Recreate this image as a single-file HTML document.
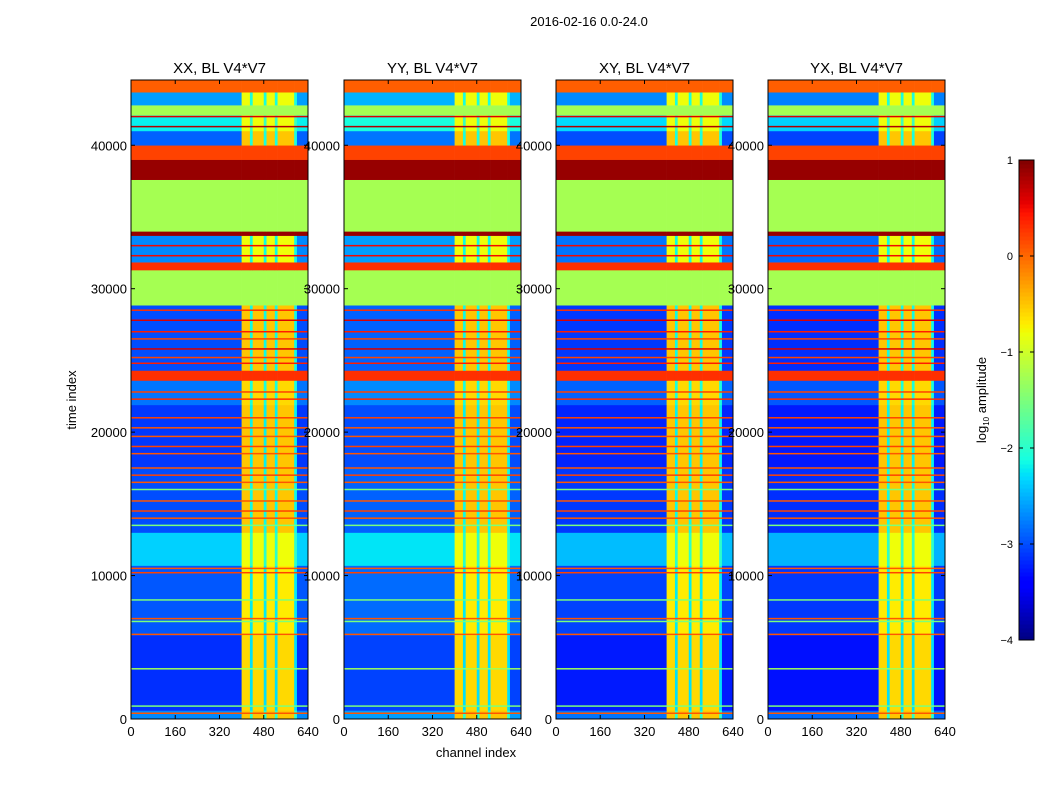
<!DOCTYPE html>
<html><head><meta charset="utf-8">
<style>
body{margin:0;background:#fff;}
svg{display:block;font-family:"Liberation Sans",sans-serif;}
</style></head>
<body>
<svg id="fig" width="1050" height="800" viewBox="0 0 1050 800">
<text x="589" y="26" font-size="13" text-anchor="middle">2016-02-16 0.0-24.0</text>
<text x="476" y="757" font-size="13" text-anchor="middle">channel index</text>
<text x="76" y="400" font-size="13" text-anchor="middle" transform="rotate(-90 76 400)">time index</text>
<g id="panels"></g>
<g id="cbar"></g>
</svg>
<script>
// ---- data ----
const panelTitles = ["XX, BL V4*V7","YY, BL V4*V7","XY, BL V4*V7","YX, BL V4*V7"];
const panelBgOffset = [0, 0.1, -0.1, -0.15];
const xTicks = [0,160,320,480,640];
const yTicks = [0,10000,20000,30000,40000];
const cbTicks = [1,0,-1,-2,-3,-4];
// time bands: start, end, background log-amplitude, RFI-region log-amplitude
const bandStart = [0,600,5850,10700,13000,17500,21900,23600,24300,28850,31300,31850,33700,34000,37600,39000,40000,41000,42100,42800,43700];
const bandEnd   = [600,5850,10700,13000,17500,21900,23600,24300,28850,31300,31850,33700,34000,37600,39000,40000,41000,42100,42800,43700,44550];
const bandBg    = [-2.7,-3.15,-2.95,-2.35,-3.0,-3.1,-2.8,0.3,-3.0,-1.25,0.3,-2.7,0.9,-1.25,0.9,0.2,-2.9,-2.2,-1.25,-2.6,0.05];
const bandRfi   = [-0.5,-0.6,-0.7,-0.8,-0.5,-0.5,-0.6,0.3,-0.5,-1.25,0.3,-0.8,0.9,-1.25,0.9,0.2,-0.5,-0.8,-1.25,-0.8,0.05];
// channel bands and type (0 = background, 1 = rfi, 2 = gap)
const chanStart = [0,400,430,440,480,490,520,530,590,600];
const chanEnd   = [400,430,440,480,490,520,530,590,600,640];
const chanType  = [0,1,2,1,2,1,2,1,2,0];
// thin full-width stripes
const stripeT   = [400,900,3500,5900,6800,7000,8300,10200,10500,13500,14000,14500,15200,16000,16500,17000,17500,18500,19000,19700,20300,21000,22300,22800,24800,25200,25800,26500,27000,27800,28500,32300,33000,41300,42000];
const stripeV   = [0.1,-1.5,-1.3,0.1,-1.5,0.1,-1.5,0.2,0.1,-1.5,0.1,0.2,0.1,-1.5,0.1,0.2,0.1,0.1,0.2,0.1,0.1,0.2,0.3,0.2,0.4,0.2,0.6,0.2,0.4,0.6,0.3,0.5,0.5,0.8,0.6];

// ---- helpers ----
function seg(x,pts){for(let i=1;i<pts.length;i++){if(x<=pts[i][0]){const a=pts[i-1],b=pts[i];return a[1]+(b[1]-a[1])*(x-a[0])/(b[0]-a[0]);}}return pts[pts.length-1][1];}
const JR=[[0,0],[0.35,0],[0.66,1],[0.89,1],[1,0.5]];
const JG=[[0,0],[0.125,0],[0.375,1],[0.64,1],[0.91,0],[1,0]];
const JB=[[0,0.5],[0.11,1],[0.34,1],[0.65,0],[1,0]];
function jet(v){
  let x=(v+4)/5; x=Math.max(0,Math.min(1,x));
  const c=t=>Math.round(255*Math.max(0,Math.min(1,t)));
  return `rgb(${c(seg(x,JR))},${c(seg(x,JG))},${c(seg(x,JB))})`;
}
const NS="http://www.w3.org/2000/svg";
function mk(tag,attrs,parent){const e=document.createElementNS(NS,tag);for(const k in attrs)e.setAttribute(k,attrs[k]);parent.appendChild(e);return e;}
const panelX=[131,344,556,768], PW=177, PT=80, PB=719, TMAX=44550;
const panels=document.getElementById('panels');
panelTitles.forEach((title,p)=>{
  const x0=panelX[p];
  const sx=c=>x0+c/640*PW;
  const sy=t=>PB-t/TMAX*(PB-PT);
  const g=mk('g',{},panels);
  
  
  for(let b=0;b<bandStart.length;b++){
    for(let c=0;c<chanStart.length;c++){
      let v = chanType[c]===0 ? bandBg[b]+panelBgOffset[p] : chanType[c]===1 ? bandRfi[b] : (bandBg[b]+bandRfi[b])/2-0.4;
      if(bandBg[b]===bandRfi[b]) v=bandBg[b];
      const r=mk('rect',{x:sx(chanStart[c]),y:sy(bandEnd[b]),width:sx(chanEnd[c])-sx(chanStart[c])+0.3,height:sy(bandStart[b])-sy(bandEnd[b])+0.3,fill:jet(v)},g);
      
      
    }
  }
  stripeT.forEach((t,i)=>{
    const s=mk('rect',{x:x0,y:sy(t)-0.75,width:PW,height:1.5,fill:jet(stripeV[i])},g);
    
    
  });
  const fr=mk('rect',{x:x0,y:PT,width:PW,height:PB-PT,fill:'none',stroke:'#000','stroke-width':1},g);
  
  
  const tt=mk('text',{x:x0+PW/2,y:73,'font-size':15,'text-anchor':'middle'},g);
  tt.textContent=title;
  
  
  xTicks.forEach(v=>{
    mk('line',{x1:sx(v),x2:sx(v),y1:PB,y2:PB-4,stroke:'#000'},g);
    mk('line',{x1:sx(v),x2:sx(v),y1:PT,y2:PT+4,stroke:'#000'},g);
    const l=mk('text',{x:sx(v),y:PB+17,'font-size':13,'text-anchor':'middle'},g);
    l.textContent=v;
    
    
  });
  yTicks.forEach(v=>{
    mk('line',{x1:x0,x2:x0+4,y1:sy(v),y2:sy(v),stroke:'#000'},g);
    mk('line',{x1:x0+PW,x2:x0+PW-4,y1:sy(v),y2:sy(v),stroke:'#000'},g);
    const l=mk('text',{x:x0-4,y:sy(v)+5,'font-size':13,'text-anchor':'end'},g);
    l.textContent=v;
    
    
  });
});
// colorbar
const cb=document.getElementById('cbar');
const CX=1019,CW=15,CT=160,CB=640;
const cy=v=>CB-(v+4)/5*(CB-CT);
for(let i=0;i<120;i++){
  const v=-4+5*i/120;
  const r=mk('rect',{x:CX,y:cy(v+5/120),width:CW,height:(CB-CT)/120+0.5,fill:jet(v+2.5/120)},cb);
  
  
}
mk('rect',{x:CX,y:CT,width:CW,height:CB-CT,fill:'none',stroke:'#000'},cb);
cbTicks.forEach(v=>{
  mk('line',{x1:CX,x2:CX+4,y1:cy(v),y2:cy(v),stroke:'#000'},cb);
  mk('line',{x1:CX+CW,x2:CX+CW-4,y1:cy(v),y2:cy(v),stroke:'#000'},cb);
  const l=mk('text',{x:CX-6,y:cy(v)+4,'font-size':11,'text-anchor':'end'},cb);
  l.textContent=v<0?'\u2212'+(-v):v;
  
  
});
const lab=mk('text',{x:986,y:400,'font-size':13,'text-anchor':'middle',transform:'rotate(-90 986 400)'},cb);
lab.innerHTML='log<tspan font-size="8" dy="3">10</tspan><tspan dy="-3"> amplitude</tspan>';


</script>
</body></html>
